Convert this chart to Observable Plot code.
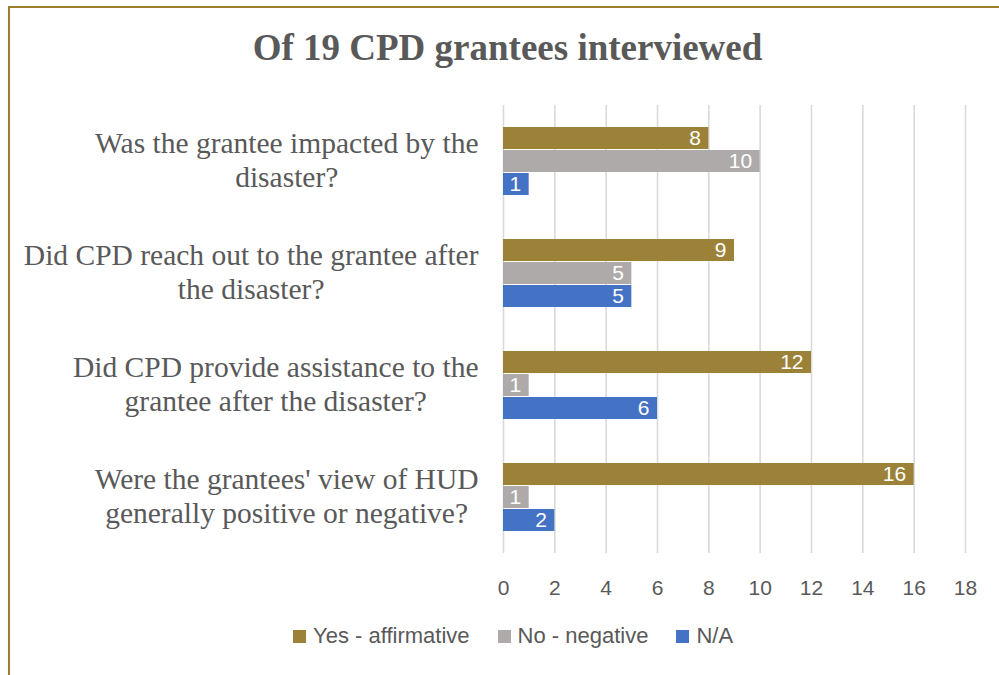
<!DOCTYPE html>
<html>
<head>
<meta charset="utf-8">
<script src="https://cdn.jsdelivr.net/npm/d3@7"></script>
<script src="https://cdn.jsdelivr.net/npm/@observablehq/plot@0.6"></script>
<style>
  html, body { margin: 0; padding: 0; background: #fff; overflow: hidden; }
  #wrap { position: relative; width: 999px; height: 675px; }
  #border { position: absolute; left: 8px; top: 6px; width: 1000px; height: 700px;
            border-top: 2px solid #9c7f2e; border-left: 2px solid #9c7f2e; box-sizing: border-box; }
  #title { position: absolute; left: 8px; top: 22px; width: 999px; text-align: center;
           font-family: "Liberation Serif", "Times New Roman", serif; font-weight: bold;
           font-size: 37px; line-height: 52px; color: #595959; }
  #chart { position: absolute; left: 0; top: 90px; }
  #legend { position: absolute; left: 293px; top: 623px; display: flex; align-items: center;
            font-family: "Liberation Sans", Arial, sans-serif; font-size: 22px; color: #595959; }
  .item { display: flex; align-items: center; margin-right: 28px; }
  .sw { width: 13px; height: 13px; margin-right: 7px; }
</style>
</head>
<body>
<div id="wrap">
  <div id="border"></div>
  <div id="title">Of 19 CPD grantees interviewed</div>
  <div id="chart"></div>
  <div id="legend"></div>
</div>
<script>
const questions = [
  "Was the grantee impacted by the\ndisaster?",
  "Did CPD reach out to the grantee after\nthe disaster?",
  "Did CPD provide assistance to the\ngrantee after the disaster?",
  "Were the grantees' view of HUD\ngenerally positive or negative?"
];
const series = ["Yes - affirmative", "No - negative", "N/A"];
const colors = ["#9c8139", "#aeaaaa", "#4472c4"];
const yesValues = [8, 9, 12, 16];
const noValues = [10, 5, 1, 1];
const naValues = [1, 5, 6, 2];
const xTicks = [0, 2, 4, 6, 8, 10, 12, 14, 16, 18];

const seriesValues = [yesValues, noValues, naValues];
const data = questions.flatMap((q, i) => series.map((s, j) => ({q, s, v: seriesValues[j][i]})));

const labelFont = "Liberation Serif";
const labelSize = 29.5;
const ctx = document.createElement("canvas").getContext("2d");
ctx.font = `${labelSize}px "${labelFont}"`;
const labelWidths = questions.map(q => Math.max(...q.split("\n").map(l => ctx.measureText(l).width)));

const labelMarks = questions.map((q, i) => Plot.text([q], {
  fy: d => d, text: d => d, frameAnchor: "left", textAnchor: "middle",
  dx: -(25 + labelWidths[i] / 2), dy: -2, lineHeight: 1.15,
  fontSize: labelSize, fontFamily: labelFont, fill: "#595959"
}));

const chart = Plot.plot({
  width: 999,
  height: 525,
  marginLeft: 503,
  marginRight: 34,
  marginTop: 15,
  marginBottom: 62,
  style: {background: "transparent", overflow: "visible"},
  x: {domain: [0, 18], axis: null, label: null},
  y: {domain: series, paddingInner: 0.04, paddingOuter: 0.9, axis: null, label: null},
  fy: {domain: questions, padding: 0, axis: null, label: null},
  color: {domain: series, range: colors},
  marks: [
    Plot.gridX(xTicks, {stroke: "#d9d9d9", strokeOpacity: 1, strokeWidth: 1.6}),
    Plot.barX(data, {x: "v", y: "s", fy: "q", fill: "s"}),
    Plot.text(data, {x: "v", y: "s", fy: "q", text: d => String(d.v), textAnchor: "end", dx: -8,
      fill: "white", fontSize: 21, fontFamily: "Liberation Sans"}),
    Plot.axisX(xTicks, {tickSize: 0, tickPadding: 27, fontSize: 21, fontFamily: "Liberation Sans",
      fill: "#595959", tickFormat: d => String(d), label: null}),
    ...labelMarks
  ]
});
document.getElementById("chart").appendChild(chart);

const legend = document.getElementById("legend");
series.forEach((s, i) => {
  const item = document.createElement("div");
  item.className = "item";
  const sw = document.createElement("div");
  sw.className = "sw";
  sw.style.background = colors[i];
  const t = document.createElement("span");
  t.textContent = s;
  item.appendChild(sw);
  item.appendChild(t);
  legend.appendChild(item);
});
</script>
</body>
</html>
